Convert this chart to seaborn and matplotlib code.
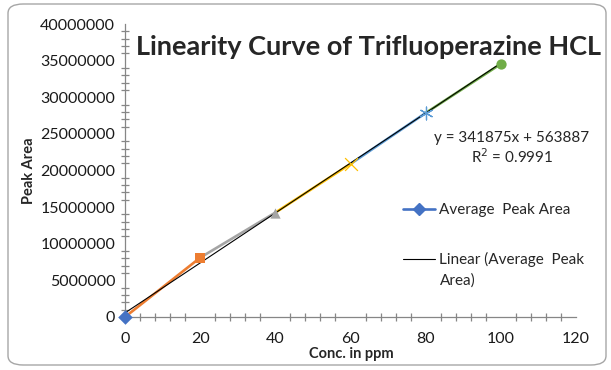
import matplotlib

matplotlib.use("Agg")
import matplotlib.pyplot as plt
import numpy as np
import pandas as pd
import seaborn as sns
from matplotlib.lines import Line2D
from matplotlib.patches import FancyBboxPatch
from matplotlib.ticker import MultipleLocator

# values
conc = [0, 20, 40, 60, 80, 100]
peak_area = [0, 8100000, 14250000, 20900000, 27850000, 34550000]
point_colors = ["#4472C4", "#ED7D31", "#A5A5A5", "#FFC000", "#5B9BD5", "#70AD47"]
point_markers = ["D", "s", "^", "x", (6, 2, 0), "o"]

title = "Linearity Curve of Trifluoperazine HCL"
equation_line = "y = 341875x + 563887"
r2_line = "R$^2$ = 0.9991"
series_name = "Average  Peak Area"
trend_name = "Linear (Average  Peak"
trend_name_wrap = "Area)"

sns.set_theme(style="white")
plt.rcParams["font.family"] = ["Lato", "DejaVu Sans"]

df = pd.DataFrame({"conc": conc, "area": peak_area})

fig = plt.figure(figsize=(6.11, 3.70), dpi=100)
ax = fig.add_axes([125 / 611, 53 / 370, 451 / 611, 293 / 370])

# rounded chart border
fig.patches.append(
    FancyBboxPatch(
        (8 / 611, 5 / 370), 598 / 611, 361 / 370,
        boxstyle="round,pad=0,rounding_size=0.025",
        transform=fig.transFigure, facecolor="none",
        edgecolor="#A6A6A6", linewidth=1.0,
    )
)

# each segment takes the colour of its end point (excel "vary colours")
for i in range(1, len(df)):
    seg = df.iloc[i - 1 : i + 1]
    sns.lineplot(data=seg, x="conc", y="area", color=point_colors[i],
                 linewidth=1.9, ax=ax, zorder=2)

# linear trendline
slope, intercept = np.polyfit(df["conc"], df["area"], 1)
trend_x = np.array([min(conc), max(conc)])
ax.plot(trend_x, slope * trend_x + intercept, color="black", linewidth=0.8, zorder=3)

for i, row in df.iterrows():
    mk = point_markers[i]
    thin = mk in ("x", (6, 2, 0))
    sns.scatterplot(x=[row["conc"]], y=[row["area"]], marker=mk, s=85 if thin else 55,
                    color=point_colors[i], edgecolor=point_colors[i],
                    linewidth=0.9 if thin else 0, ax=ax, zorder=4, clip_on=False)

ax.set_xlim(0, 120)
ax.set_ylim(0, 40000000)
ax.xaxis.set_major_locator(MultipleLocator(20))
ax.xaxis.set_minor_locator(MultipleLocator(4))
ax.yaxis.set_major_locator(MultipleLocator(5000000))
ax.yaxis.set_minor_locator(MultipleLocator(1000000))
ax.ticklabel_format(style="plain", axis="y")

for side in ["top", "right"]:
    ax.spines[side].set_visible(False)
for side in ["left", "bottom"]:
    ax.spines[side].set_color("#868686")
    ax.spines[side].set_linewidth(0.9)

ax.tick_params(which="both", direction="inout", length=6, width=0.9, color="#868686",
               labelsize=11.5, labelcolor="#1a1a1a")
ax.tick_params(axis="x", which="major", pad=8)
ax.tick_params(axis="y", which="major", pad=4)
ax.tick_params(which="minor", bottom=True, left=True)

ax.set_xlabel("")
ax.set_ylabel("")
fig.text(351 / 611, 1 - 354 / 370, "Conc. in ppm", ha="center", va="center",
         fontsize=10.5, fontweight="bold")
fig.text(29 / 611, 1 - 171 / 370, "Peak Area", ha="center", va="center",
         rotation=90, fontsize=10.5, fontweight="bold")

fig.text(369 / 611, 1 - 47 / 370, title, ha="center", va="center",
         fontsize=19.5, fontweight="bold")

fig.text(512 / 611, 1 - 138 / 370, equation_line, ha="center", va="center", fontsize=11)
fig.text(512 / 611, 1 - 157 / 370, r2_line, ha="center", va="center", fontsize=11)

handles = [
    Line2D([], [], color="#4472C4", linewidth=1.9, marker="D", markersize=6),
    Line2D([], [], color="black", linewidth=0.8),
]
ax.legend(handles, [series_name, trend_name], frameon=False, fontsize=11,
          loc="upper left", bbox_to_anchor=(278 / 451, 1 - (203 - 24) / 293),
          handlelength=2.1, handletextpad=0.28, labelspacing=2.3, borderaxespad=0,
          borderpad=0)
# excel wraps the trendline label onto a second line
fig.text(440 / 611, 1 - 281 / 370, trend_name_wrap, ha="left", va="center", fontsize=11)

fig.savefig("out.png", dpi=100)
